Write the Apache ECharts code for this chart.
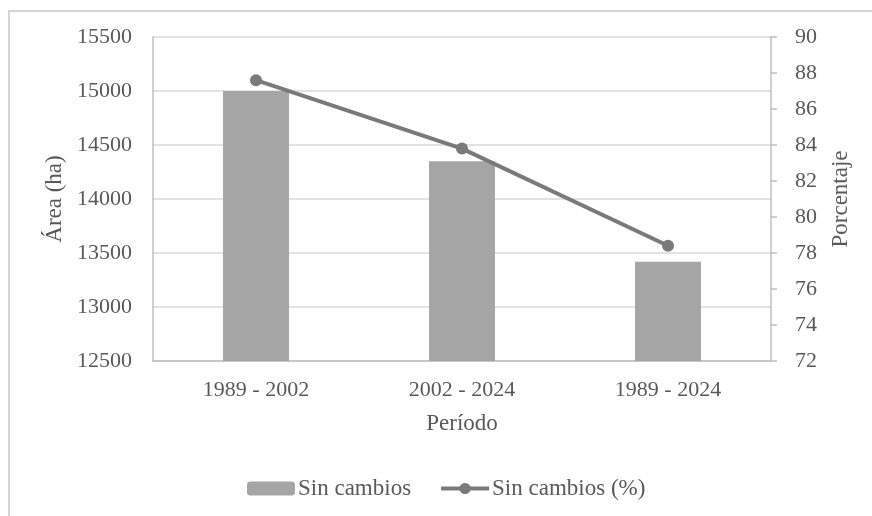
<!DOCTYPE html>
<html>
<head>
<meta charset="utf-8">
<script src="https://cdn.jsdelivr.net/npm/echarts@6/dist/echarts.min.js"></script>
<style>
  html, body { margin: 0; padding: 0; background: #fff; }
  #chart { width: 872px; height: 516px; }
</style>
</head>
<body>
<div id="chart"></div>
<script>
var periods = ['1989 - 2002', '2002 - 2024', '1989 - 2024'];
var areaHa = [15000, 14350, 13420];
var percent = [87.6, 83.8, 78.4];

var font = 'Liberation Serif, Times New Roman, serif';
var txt = '#595959';

var myChart = echarts.init(document.getElementById('chart'));
var option = {
    backgroundColor: '#fff',
    textStyle: { fontFamily: font },
    graphic: [{
        type: 'rect',
        shape: { x: 9, y: 11, width: 900, height: 600 },
        style: { fill: 'none', stroke: '#c8c8c8', lineWidth: 1.5 },
        silent: true
    }],
    grid: { left: 153, right: 101, top: 37, bottom: 155 },
    legend: {
        top: 472,
        left: 242,
        itemGap: 28,
        itemWidth: 48,
        itemHeight: 14,
        lineStyle: { width: 4 },
        textStyle: { fontFamily: font, fontSize: 23, color: txt, padding: [0, 0, 0, -2] },
        data: [
            { name: 'Sin cambios', itemStyle: { color: '#a5a5a5' } },
            { name: 'Sin cambios (%)' }
        ]
    },
    xAxis: {
        type: 'category',
        data: periods,
        name: 'Período',
        nameLocation: 'middle',
        nameGap: 51,
        nameTextStyle: { fontFamily: font, fontSize: 23, color: txt },
        axisLine: { lineStyle: { color: '#bfbfbf', width: 1.5 } },
        axisTick: { show: false },
        axisLabel: { fontFamily: font, fontSize: 22, color: txt, margin: 18 }
    },
    yAxis: [{
        type: 'value',
        min: 12500,
        max: 15500,
        interval: 500,
        name: 'Área (ha)',
        nameLocation: 'middle',
        nameRotate: 90,
        nameGap: 86,
        nameTextStyle: { fontFamily: font, fontSize: 23, color: txt },
        axisLine: { show: true, lineStyle: { color: '#bfbfbf', width: 1.5 } },
        axisTick: { show: false },
        splitLine: { lineStyle: { color: '#d9d9d9', width: 1.5 } },
        axisLabel: { fontFamily: font, fontSize: 22, color: txt, margin: 21,
            formatter: function (v) { return String(v); } }
    }, {
        type: 'value',
        min: 72,
        max: 90,
        interval: 2,
        position: 'right',
        name: 'Porcentaje',
        nameLocation: 'middle',
        nameRotate: 90,
        nameGap: 58,
        nameTextStyle: { fontFamily: font, fontSize: 23, color: txt },
        axisLine: { show: true, lineStyle: { color: '#bfbfbf', width: 1.5 } },
        axisTick: { show: true, length: 6, lineStyle: { color: '#bfbfbf', width: 1.5 } },
        splitLine: { show: false },
        axisLabel: { fontFamily: font, fontSize: 22, color: txt, margin: 24 }
    }],
    series: [{
        name: 'Sin cambios',
        type: 'bar',
        yAxisIndex: 0,
        barWidth: '32%',
        itemStyle: { color: '#a5a5a5' },
        data: areaHa
    }, {
        name: 'Sin cambios (%)',
        type: 'line',
        yAxisIndex: 1,
        symbol: 'circle',
        symbolSize: 12,
        itemStyle: { color: '#7a7a7a' },
        lineStyle: { color: '#7a7a7a', width: 4 },
        data: percent
    }]
};
myChart.setOption(option);
</script>
</body>
</html>
